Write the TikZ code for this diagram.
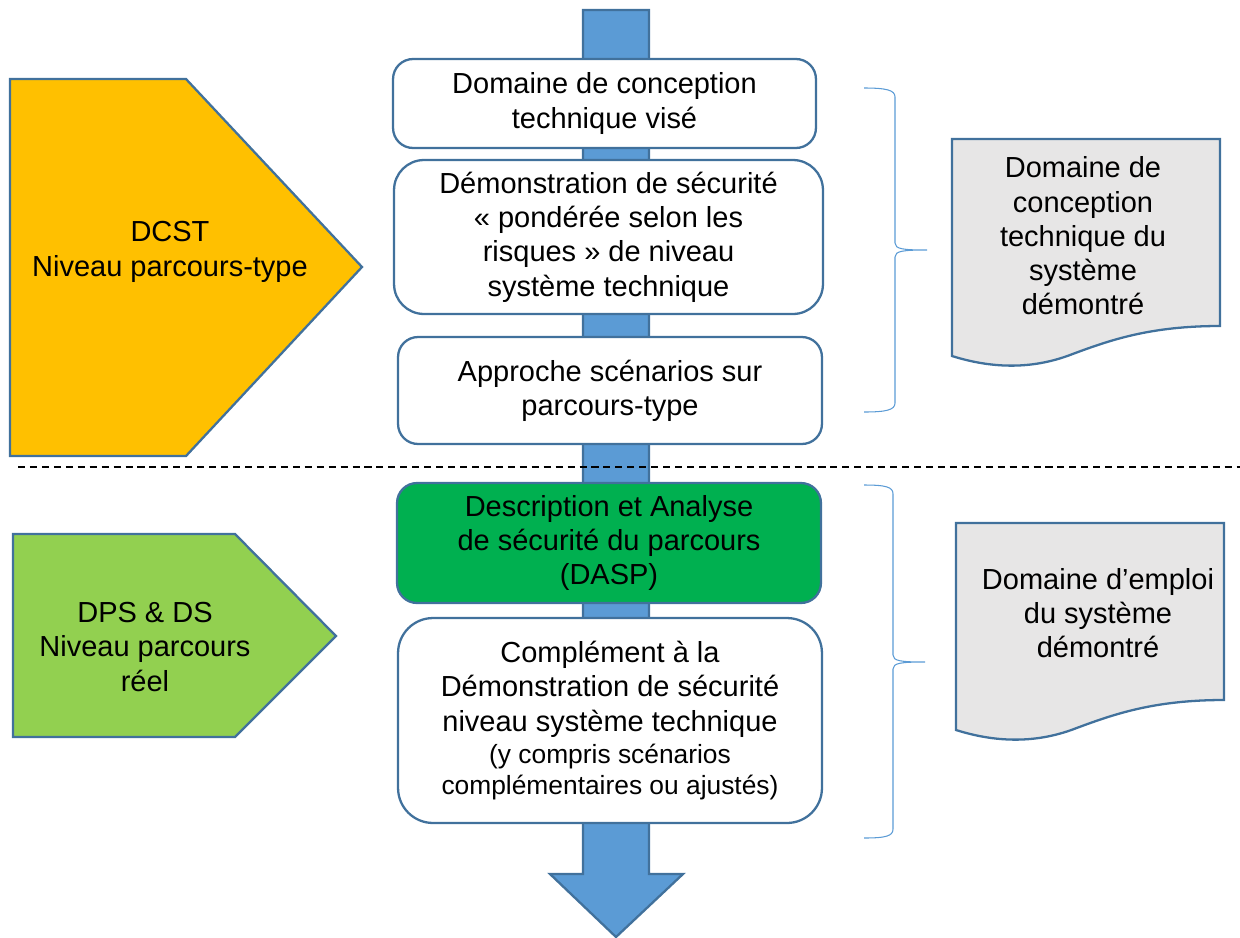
\documentclass[tikz,border=0pt]{standalone}
\usepackage{fontspec}
\setmainfont{Liberation Sans}
\usetikzlibrary{positioning}

\definecolor{bordure}{HTML}{41719C}
\definecolor{fleche}{HTML}{5B9BD5}
\definecolor{orange}{HTML}{FFC000}
\definecolor{vertclair}{HTML}{92D050}
\definecolor{vertfonce}{HTML}{00B050}
\definecolor{gris}{HTML}{E7E6E6}

\newcommand{\petit}{\fontsize{15}{17}\selectfont}

\tikzset{
  bloc/.style={draw=bordure, line width=1.3pt, fill=white, rounded corners=0.4cm,
    align=center, inner sep=0pt, font=\fontsize{16.5}{19.5}\selectfont},
  niveau/.style={draw=bordure, line width=1.3pt},
  legende/.style={align=center, font=\fontsize{16.5}{19.5}\selectfont},
  accolade/.style={draw=fleche, line width=0.6pt},
}

\begin{document}
\begin{tikzpicture}[x=0.02cm,y=-0.02cm]
  \useasboundingbox (0,0) rectangle (1240,937);

  % grande fleche
  \draw[niveau, fill=fleche] (583,10) -- (649,10) -- (649,874) -- (683,874) -- (616,937) -- (550,874) -- (583,874) -- cycle;

  \draw[dashed, line width=1.1pt, dash pattern=on 4pt off 2.8pt] (18,467) -- (1240,467);

  % niveaux
  \draw[niveau, fill=orange] (10,79) -- (186,79) -- (362,267) -- (186,456) -- (10,456) -- cycle;
  \node[legende] (dcst) at (170,252) {DCST\\Niveau parcours-type};

  \draw[niveau, fill=vertclair] (13,534) -- (235,534) -- (336,636) -- (235,737) -- (13,737) -- cycle;
  \node[legende] (dps) at (145,647) {DPS \& DS\\Niveau parcours\\réel};

  % etapes
  \node[bloc, minimum width=8.46cm, minimum height=1.78cm] (vise) at (604.5,103.5) {Domaine de conception\\technique visé};
  \node[bloc, rounded corners=0.6cm, minimum width=8.58cm, minimum height=3.08cm] (demo) at (608.5,237) {Démonstration de sécurité\\« pondérée selon les\\risques » de niveau\\système technique};
  \node[bloc, minimum width=8.48cm, minimum height=2.14cm] (approche) at (610,390.5) {Approche scénarios sur\\parcours-type};
  \node[bloc, fill=vertfonce, minimum width=8.48cm, minimum height=2.4cm] (dasp) at (609,543) {Description et Analyse\\de sécurité du parcours\\(DASP)};
  \node[bloc, rounded corners=0.7cm, minimum width=8.48cm, minimum height=4.1cm] (complement) at (610,720.5) {Complément à la\\Démonstration de sécurité\\niveau système technique\\[-1pt]\petit (y compris scénarios\\[-2pt]\petit complémentaires ou ajustés)};

  % accolades
  \foreach \ya/\ym/\yb/\xb/\xc in {88/250/412/895/927, 485/662/838/893/925}
    \draw[accolade] (864,\ya) .. controls (886,\ya) and (\xb,\ya+2) .. (\xb,\ya+9) -- (\xb,\ym-7)
      .. controls (\xb,\ym-1) and (\xb+8,\ym) .. (\xc,\ym)
      .. controls (\xb+8,\ym) and (\xb,\ym+1) .. (\xb,\ym+7) -- (\xb,\yb-9)
      .. controls (\xb,\yb-2) and (886,\yb) .. (864,\yb);

  % domaines
  \draw[niveau, fill=gris] (952,139) -- (1220,139) -- (1220,326) .. controls (1150,326) and (1110,340) .. (1070,355)
    .. controls (1030,370) and (990,368) .. (952,356) -- cycle;
  \node[legende] (conception) at (1083,236) {Domaine de\\conception\\technique du\\système\\démontré};

  \draw[niveau, fill=gris] (956,523) -- (1224,523) -- (1224,700) .. controls (1154,700) and (1114,714) .. (1074,729)
    .. controls (1034,744) and (994,742) .. (956,730) -- cycle;
  \node[legende] (emploi) at (1098,613) {Domaine d’emploi\\du système\\démontré};

\end{tikzpicture}
\end{document}
